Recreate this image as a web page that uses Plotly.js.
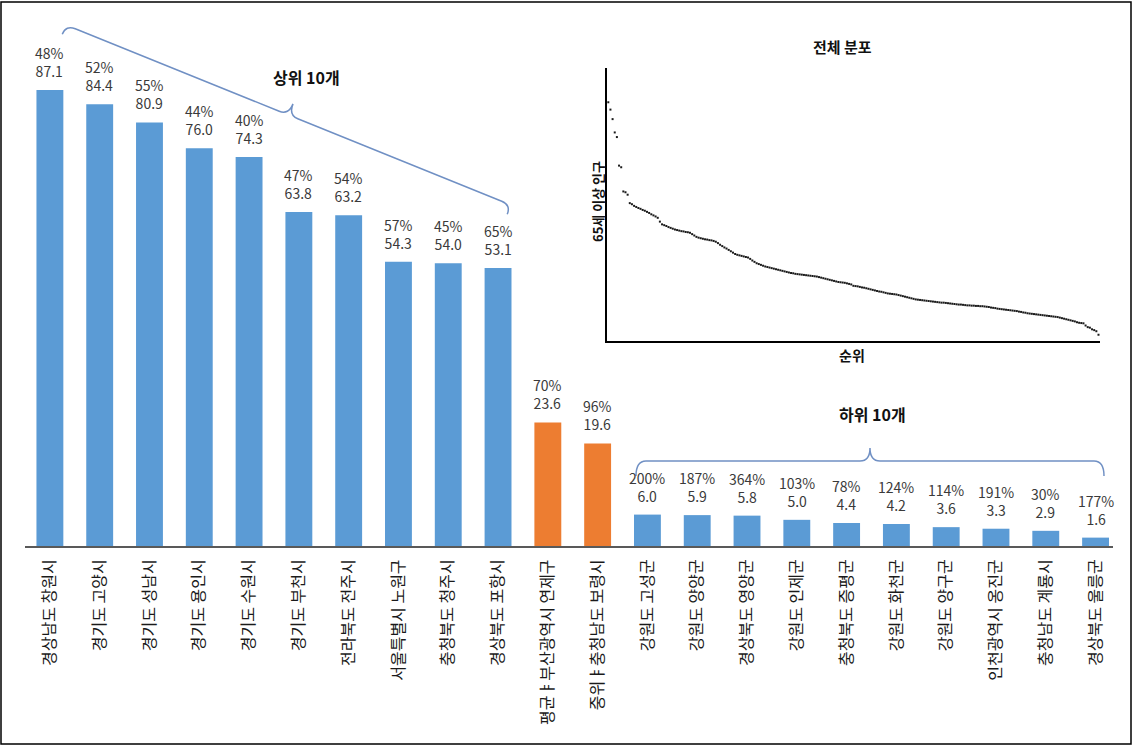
<!DOCTYPE html>
<html>
<head>
<meta charset="utf-8">
<script src="https://cdn.plot.ly/plotly-3.0.1.min.js"></script>
<style>
  html, body { margin: 0; padding: 0; background: #fff; }
  #chart { width: 1133px; height: 746px; }
</style>
</head>
<body>
<div id="chart"></div>
<script>
// 시군구별 65세 이상 인구(천 명)와 증가율: 상위 10개, 평균·중위, 하위 10개
const regions = [
  '경상남도 창원시', '경기도 고양시', '경기도 성남시', '경기도 용인시', '경기도 수원시',
  '경기도 부천시', '전라북도 전주시', '서울특별시 노원구', '충청북도 청주시', '경상북도 포항시',
  '평균ㅑ부산광역시 연제구', '중위ㅑ충청남도 보령시',
  '강원도 고성군', '강원도 양양군', '경상북도 영양군', '강원도 인제군', '충청북도 증평군',
  '강원도 화천군', '강원도 양구군', '인천광역시 옹진군', '충청남도 계룡시', '경상북도 울릉군'
];
const elderly = [87.1, 84.4, 80.9, 76.0, 74.3, 63.8, 63.2, 54.3, 54.0, 53.1,
                 23.6, 19.6,
                 6.0, 5.9, 5.8, 5.0, 4.4, 4.2, 3.6, 3.3, 2.9, 1.6];
const growthPct = [48, 52, 55, 44, 40, 47, 54, 57, 45, 65,
                   70, 96,
                   200, 187, 364, 103, 78, 124, 114, 191, 30, 177];

// 전체 시군구 65세 이상 인구, 순위순
const allElderly = [
  87.1, 84.4, 80.9, 76.0, 74.3, 63.8, 63.2, 54.3, 54.0, 53.1,
  50.0, 49.6, 49.0, 48.6, 48.2, 47.9, 47.5, 47.2, 46.8, 46.4,
  45.9, 45.5, 45.1, 44.6, 43.2, 42.2, 41.9, 41.6, 41.2, 40.9,
  40.6, 40.3, 40.1, 39.9, 39.7, 39.6, 39.4, 39.3, 39.1, 38.6,
  38.1, 37.6, 37.3, 37.1, 36.9, 36.7, 36.6, 36.4, 36.3, 36.1,
  35.8, 35.3, 34.7, 34.2, 33.7, 33.3, 32.8, 32.3, 31.8, 31.3,
  31.0, 30.8, 30.6, 30.4, 30.2, 30.0, 29.5, 28.9, 28.4, 27.9,
  27.6, 27.3, 27.0, 26.7, 26.5, 26.3, 26.1, 25.9, 25.7, 25.5,
  25.3, 25.1, 24.9, 24.7, 24.5, 24.3, 24.2, 24.0, 23.9, 23.8,
  23.7, 23.6, 23.5, 23.4, 23.3, 23.2, 23.1, 23.0, 22.8, 22.6,
  22.4, 22.2, 22.0, 21.8, 21.6, 21.4, 21.2, 21.0, 20.9, 20.8,
  20.7, 20.5, 20.3, 20.1, 19.6, 19.5, 19.4, 19.2, 19.0, 18.9,
  18.7, 18.5, 18.3, 18.1, 17.9, 17.7, 17.5, 17.4, 17.2, 17.0,
  16.8, 16.7, 16.6, 16.5, 16.4, 16.2, 16.0, 15.8, 15.6, 15.4,
  15.2, 15.0, 14.8, 14.6, 14.5, 14.4, 14.3, 14.2, 14.1, 14.0,
  13.9, 13.8, 13.7, 13.6, 13.5, 13.4, 13.4, 13.3, 13.2, 13.1,
  13.0, 12.9, 12.8, 12.7, 12.7, 12.6, 12.5, 12.4, 12.4, 12.3,
  12.3, 12.2, 12.2, 12.1, 12.1, 12.0, 11.9, 11.8, 11.6, 11.5,
  11.4, 11.2, 11.1, 11.0, 10.9, 10.8, 10.7, 10.6, 10.5, 10.4,
  10.3, 10.1, 10.0, 9.8, 9.7, 9.5, 9.4, 9.3, 9.2, 9.1,
  9.0, 8.9, 8.8, 8.7, 8.6, 8.5, 8.4, 8.3, 8.2, 8.1,
  7.9, 7.7, 7.5, 7.3, 7.1, 6.9, 6.7, 6.5, 6.2,
  6.0, 5.9, 5.8, 5.0, 4.4, 4.2, 3.6, 3.3, 2.9, 1.6
];
const ranks = allElderly.map((_, i) => i + 1);

const BLUE = '#5B9BD5', ORANGE = '#ED7D31';
const FONT = '"Noto Sans CJK KR", "Noto Sans", sans-serif';

// plot area in pixels (used to place braces and inset)
const W = 1133, H = 746;
const M = { l: 25, r: 20, t: 40, b: 200 };
const PW = W - M.l - M.r, PH = H - M.t - M.b;
const toPaper = (x, y) => [(x - M.l) / PW, (M.t + PH - y) / PH];

// curly brace between spine end points s0 and s1, tip on the left-hand normal
function bracePath(s0, s1, depth, tipDepth, r) {
  const dx = s1[0] - s0[0], dy = s1[1] - s0[1], len = Math.hypot(dx, dy);
  const u = [dx / len, dy / len];
  const n = [u[1], -u[0]];
  const add = (p, v, k) => [p[0] + v[0] * k, p[1] + v[1] * k];
  const mid = [(s0[0] + s1[0]) / 2, (s0[1] + s1[1]) / 2];
  const segs = [
    ['M', add(s0, n, -depth)],
    ['Q', s0, add(s0, u, r)],
    ['L', add(mid, u, -r)],
    ['Q', mid, add(mid, n, tipDepth)],
    ['Q', mid, add(mid, u, r)],
    ['L', add(s1, u, -r)],
    ['Q', s1, add(s1, n, -depth)]
  ];
  return segs.map(([cmd, ...pts]) =>
    cmd + ' ' + pts.map(p => toPaper(p[0], p[1]).map(v => v.toFixed(5)).join(',')).join(' ')
  ).join(' ');
}

const barColors = regions.map(r => (r.startsWith('평균') || r.startsWith('중위')) ? ORANGE : BLUE);

const bars = {
  type: 'bar',
  x: regions,
  y: elderly,
  marker: { color: barColors, line: { width: 0 } },
  hoverinfo: 'none',
  xaxis: 'x', yaxis: 'y'
};

const dots = {
  type: 'scatter',
  mode: 'markers',
  x: ranks,
  y: allElderly,
  marker: { symbol: 'square', size: 2, color: '#1a1a1a', line: { width: 0 } },
  hoverinfo: 'none',
  xaxis: 'x2', yaxis: 'y2'
};

const valueLabels = regions.map((r, i) => ({
  x: r, y: elderly[i], xref: 'x', yref: 'y',
  text: growthPct[i] + '%<br>' + elderly[i].toFixed(1),
  showarrow: false, yanchor: 'bottom', xanchor: 'center', yshift: 7,
  font: { family: FONT, size: 14, color: '#3a3a3a' }
}));

const insetX = [toPaper(607, 0)[0], toPaper(1100, 0)[0]];
const insetY = [toPaper(0, 341)[1], toPaper(0, 68)[1]];

function paperNote(px, py, text, size, extra) {
  const [x, y] = toPaper(px, py);
  return Object.assign({
    x, y, xref: 'paper', yref: 'paper', text, showarrow: false,
    xanchor: 'center', yanchor: 'middle',
    font: { family: FONT, size, color: '#111' }
  }, extra || {});
}

const notes = [
  paperNote(306, 77, '<b>상위 10개</b>', 16),
  paperNote(872, 414, '<b>하위 10개</b>', 16),
  paperNote(842, 46, '<b>전체 분포</b>', 15),
  paperNote(852, 355, '<b>순위</b>', 14),
  paperNote(597, 202, '<b>65세 이상 인구</b>', 13, { textangle: -90 })
];

const frame = (() => {
  const [x0, y0] = toPaper(1, 744), [x1, y1] = toPaper(1131, 2);
  return { type: 'rect', xref: 'paper', yref: 'paper', x0, y0, x1, y1,
           line: { color: '#000', width: 1.5 }, layer: 'above' };
})();

const braceLine = { color: '#7090c4', width: 1.5 };
const shapes = [
  frame,
  { type: 'path', xref: 'paper', yref: 'paper', line: braceLine,
    path: bracePath([66, 25], [511, 205], 10, 12, 10) },
  { type: 'path', xref: 'paper', yref: 'paper', line: braceLine,
    path: bracePath([636, 461], [1104, 461], 15, 13, 10) }
];

const layout = {
  width: W, height: H,
  margin: M,
  paper_bgcolor: '#fff', plot_bgcolor: 'rgba(0,0,0,0)',
  showlegend: false,
  bargap: 0.46,
  font: { family: FONT, color: '#111' },
  xaxis: {
    type: 'category', range: [-0.5, 21.35], autorange: false, fixedrange: true,
    showline: true, linecolor: '#595959', linewidth: 2,
    showgrid: false, zeroline: false, ticks: '', ticklabelstandoff: 5,
    tickangle: -90, tickfont: { family: FONT, size: 16, color: '#1a1a1a' }
  },
  yaxis: {
    range: [0, PH / 5.235], autorange: false, visible: false, fixedrange: true
  },
  xaxis2: {
    domain: insetX, anchor: 'y2', range: [0.4, 229.7], autorange: false,
    showline: true, linecolor: '#000', linewidth: 2, mirror: false,
    showgrid: false, zeroline: false, showticklabels: false, ticks: ''
  },
  yaxis2: {
    domain: insetY, anchor: 'x2', range: [-0.7, 99.7], autorange: false,
    showline: true, linecolor: '#000', linewidth: 2, mirror: false,
    showgrid: false, zeroline: false, showticklabels: false, ticks: ''
  },
  annotations: valueLabels.concat(notes),
  shapes
};

Plotly.newPlot('chart', [bars, dots], layout, { staticPlot: true, displayModeBar: false });
</script>
</body>
</html>
